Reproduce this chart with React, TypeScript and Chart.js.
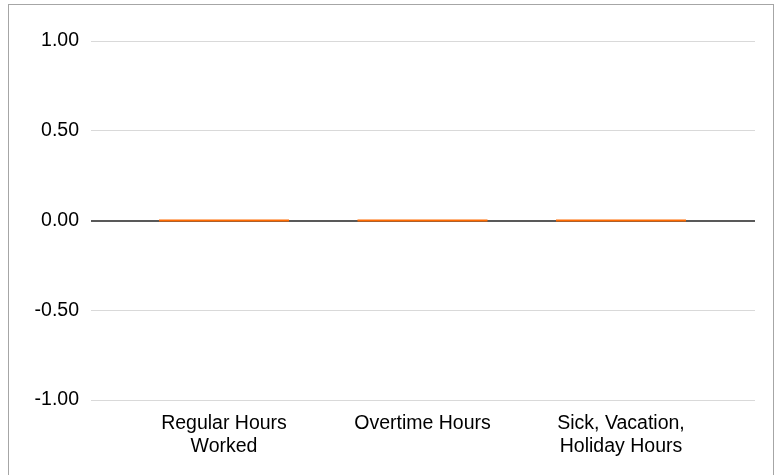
import React, { useEffect, useRef } from "react";
import { Chart, registerables } from "chart.js";

Chart.register(...registerables);

const categories: string[][] = [
  ["Regular Hours", "Worked"],
  ["Overtime Hours"],
  ["Sick, Vacation,", "Holiday Hours"],
];
const hoursValues: number[] = [0, 0, 0];
const yTicks: number[] = [-1, -0.5, 0, 0.5, 1];

const FONT = "'Liberation Sans', Arial, sans-serif";

export default function App() {
  const ref = useRef<HTMLCanvasElement | null>(null);

  useEffect(() => {
    if (!ref.current) return;
    const chart = new Chart(ref.current, {
      type: "bar",
      data: {
        datasets: [
          {
            label: "Hours",
            data: categories.map((_, i) => ({ x: i, y: hoursValues[i] })),
            backgroundColor: "#FF6A00",
            borderWidth: 0,
            minBarLength: 2,
            categoryPercentage: 1,
            barPercentage: 0.655,
          },
        ],
      },
      options: {
        animation: false,
        responsive: false,
        maintainAspectRatio: false,
        layout: { padding: { left: 0, right: 18, top: 36, bottom: 0 } },
        plugins: { legend: { display: false }, tooltip: { enabled: false } },
        scales: {
          x: {
            type: "linear",
            offset: false,
            min: -0.67,
            max: 2.675,
            grid: { display: false, offset: false },
            border: { display: false },
            afterBuildTicks: (scale: any) => {
              scale.ticks = categories.map((_, i) => ({ value: i }));
            },
            afterFit: (scale: any) => {
              scale.height = 75;
            },
            ticks: {
              autoSkip: false,
              maxRotation: 0,
              minRotation: 0,
              padding: 4,
              color: "#000",
              font: { family: FONT, size: 19.5, lineHeight: 1.2 },
              callback: (v: any) => categories[Number(v)] ?? "",
            },
          },
          y: {
            min: -1,
            max: 1,
            afterBuildTicks: (scale: any) => {
              scale.ticks = yTicks.map((v) => ({ value: v }));
            },
            afterFit: (scale: any) => {
              scale.width = 82;
            },
            grid: {
              drawTicks: false,
              color: (ctx: any) => (ctx.tick && ctx.tick.value === 0 ? "#595959" : "#d9d9d9"),
              lineWidth: (ctx: any) => (ctx.tick && ctx.tick.value === 0 ? 2 : 1),
            },
            border: { display: false },
            ticks: {
              padding: 12,
              color: "#000",
              font: { family: FONT, size: 19.5 },
              callback: (v: any) => Number(v).toFixed(2),
            },
          },
        },
      },
    });
    return () => chart.destroy();
  }, []);

  return (
    <div
      style={{
        position: "absolute",
        left: 8,
        top: 4,
        width: 764,
        height: 471,
        borderTop: "1px solid #a6a6a6",
        borderLeft: "1px solid #a6a6a6",
        borderRight: "1px solid #a6a6a6",
        background: "#fff",
        overflow: "hidden",
      }}
    >
      <canvas ref={ref} width={764} height={470} style={{ display: "block" }} />
    </div>
  );
}
